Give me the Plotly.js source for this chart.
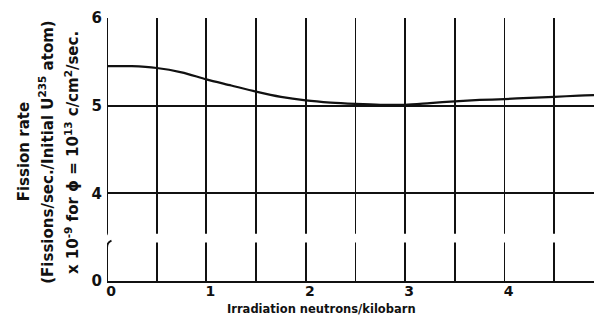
<!DOCTYPE html>
<html>
<head>
<meta charset="utf-8">
<script src="https://cdn.plot.ly/plotly-3.0.1.min.js"></script>
<style>
  html, body { margin: 0; padding: 0; background: #fff; }
  #chart { width: 594px; height: 321px; }
</style>
</head>
<body>
<div id="chart"></div>
<script>
// Fission rate vs. irradiation (neutrons/kilobarn)
const irradiation = [0, 0.25, 0.5, 0.75, 1.0, 1.25, 1.5, 1.75, 2.0, 2.25, 2.5, 2.75, 3.0, 3.25, 3.5, 3.75, 4.0, 4.25, 4.5, 4.75, 4.9];
const fissionRate = [5.45, 5.45, 5.43, 5.38, 5.30, 5.23, 5.16, 5.10, 5.06, 5.035, 5.02, 5.01, 5.01, 5.03, 5.05, 5.065, 5.075, 5.09, 5.10, 5.115, 5.12];

// Horizontal reference lines drawn at these levels (the "0" level sits below the axis break)
const yTickPos = [3, 4, 5, 6];
const yTickText = ['0', '4', '5', '6'];
const xTickPos = [0, 0.5, 1, 1.5, 2, 2.5, 3, 3.5, 4, 4.5];
const xTickText = ['0', '', '1', '', '2', '', '3', '', '4', ''];

// Axis break band on the value axis
const breakLow = 3.44, breakHigh = 3.54;

const FONT = 'DejaVu Sans, sans-serif';

const trace = {
  x: irradiation,
  y: fissionRate,
  mode: 'lines',
  line: { color: '#111', width: 2.2, shape: 'spline', smoothing: 0.8 },
  hoverinfo: 'skip'
};

const shapes = [
  // white band interrupting the vertical grid lines at the break
  { type: 'rect', xref: 'x', yref: 'y', x0: 0.02, x1: 4.9, y0: breakLow, y1: breakHigh,
    fillcolor: '#fff', line: { width: 0 }, layer: 'above' },
  // left axis, upper piece with hook
  { type: 'path', xref: 'x', yref: 'y', layer: 'above',
    path: `M0,6 L0,${breakHigh + 0.01} Q0,${breakHigh - 0.02} -0.04,${breakHigh - 0.04}`,
    line: { color: '#111', width: 2 } },
  // left axis, lower piece with hook
  { type: 'path', xref: 'x', yref: 'y', layer: 'above',
    path: `M0.045,${breakLow + 0.02} Q0,${breakLow} 0,${breakLow - 0.06} L0,3`,
    line: { color: '#111', width: 2 } }
];

const titleFont = { family: FONT, size: 15, color: '#111', weight: 'bold' };

const layout = {
  width: 594,
  height: 321,
  margin: { l: 107, r: 0, t: 18, b: 40 },
  paper_bgcolor: '#fff',
  plot_bgcolor: '#fff',
  showlegend: false,
  font: { family: FONT, color: '#111' },
  xaxis: {
    range: [0, 4.9],
    tickvals: xTickPos,
    ticktext: xTickText,
    showgrid: true,
    gridcolor: '#111',
    gridwidth: 1.8,
    zeroline: false,
    showline: true,
    linecolor: '#111',
    linewidth: 2,
    ticks: '',
    ticklabelshift: 4,
    ticklabelstandoff: -4,
    tickfont: { family: FONT, size: 14, color: '#111', weight: 'bold' }
  },
  yaxis: {
    range: [3, 6],
    tickvals: yTickPos,
    ticktext: yTickText,
    showgrid: true,
    gridcolor: '#111',
    gridwidth: 1.8,
    zeroline: false,
    showline: false,
    ticks: '',
    ticklabelstandoff: 4,
    tickfont: { family: FONT, size: 15, color: '#111', weight: 'bold' }
  },
  shapes: shapes,
  annotations: [
    { text: 'Irradiation neutrons/kilobarn', xref: 'paper', yref: 'paper', x: 0.44, y: -0.108,
      xanchor: 'center', yanchor: 'middle', showarrow: false,
      font: { family: FONT, size: 11.5, color: '#111', weight: 'bold' } },
    { text: 'Fission rate', xref: 'paper', yref: 'paper', x: -0.17, y: 0.49,
      xanchor: 'center', yanchor: 'middle', textangle: -90, showarrow: false,
      font: titleFont },
    { text: '(Fissions/sec./Initial U<sup>235</sup> atom)', xref: 'paper', yref: 'paper', x: -0.124, y: 0.49,
      xanchor: 'center', yanchor: 'middle', textangle: -90, showarrow: false,
      font: titleFont },
    { text: 'x 10<sup>-9</sup> for ϕ = 10<sup>13</sup> c/cm<sup>2</sup>/sec.', xref: 'paper', yref: 'paper', x: -0.072, y: 0.49,
      xanchor: 'center', yanchor: 'middle', textangle: -90, showarrow: false,
      font: titleFont }
  ]
};

Plotly.newPlot('chart', [trace], layout, { staticPlot: true, displayModeBar: false });
</script>
</body>
</html>
